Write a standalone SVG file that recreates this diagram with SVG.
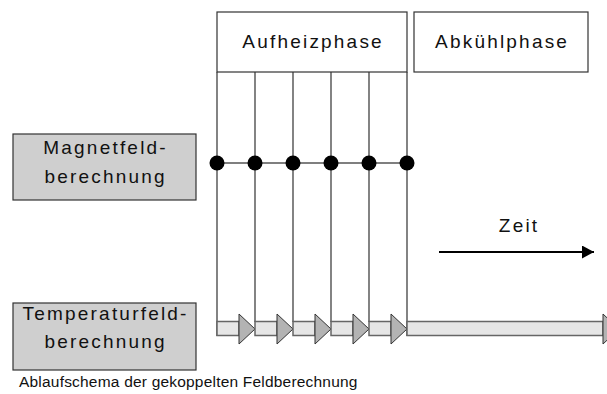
<svg xmlns="http://www.w3.org/2000/svg" width="607" height="394" viewBox="0 0 607 394">
<defs>
<style>
.t{font-family:"Liberation Sans",Arial,sans-serif;font-size:19px;letter-spacing:2.2px;fill:#111}
.cap{font-family:"Liberation Sans",Arial,sans-serif;font-size:15.5px;letter-spacing:0.2px;fill:#111}
.hdr{fill:#fff;stroke:#333;stroke-width:1.2}
.calc{fill:#cfcfcf;stroke:#333;stroke-width:1.2}
.vl{stroke:#333;stroke-width:1.2;fill:none}
.bar{fill:#e6e6e6;stroke:#666;stroke-width:1.5}
.tri{fill:#b3b3b3;stroke:#333;stroke-width:1}
.dot{fill:#000}
</style>
<marker id="ah" markerWidth="12" markerHeight="13" refX="12" refY="6.5" orient="auto" markerUnits="userSpaceOnUse">
<path d="M0,0 L12,6.5 L0,13 Z" fill="#000"/>
</marker>
</defs>
<rect width="607" height="394" fill="#fff"/>

<g id="aufheizphase">
<rect class="hdr" x="217" y="12" width="190" height="60"/>
<text class="t" x="313.1" y="48" text-anchor="middle">Aufheizphase</text>
</g>
<g id="abkuehlphase">
<rect class="hdr" x="414" y="12" width="174" height="60"/>
<text class="t" x="502.1" y="48" text-anchor="middle">Abkühlphase</text>
</g>
<g id="magnetfeld">
<rect class="calc" x="13" y="134" width="183" height="66"/>
<text class="t" x="105.6" y="154" text-anchor="middle">Magnetfeld-</text>
<text class="t" x="105.6" y="183" text-anchor="middle">berechnung</text>
</g>
<g id="temperaturfeld">
<rect class="calc" x="13" y="303" width="183" height="67"/>
<text class="t" x="105.6" y="320" text-anchor="middle">Temperaturfeld-</text>
<text class="t" x="105.6" y="348" text-anchor="middle">berechnung</text>
</g>
<g id="zeit">
<text class="t" x="519.1" y="232" text-anchor="middle">Zeit</text>
</g>

<g id="connectors">
<path class="vl" d="M217,72 V336 M255,72 V322 M293,72 V322 M331,72 V322 M369,72 V322 M407,72 V336"/>
<line x1="217" y1="163" x2="407" y2="163" stroke="#555" stroke-width="1.5"/>
<circle class="dot" cx="217" cy="163" r="7.5"/>
<circle class="dot" cx="255" cy="163" r="7.5"/>
<circle class="dot" cx="293" cy="163" r="7.5"/>
<circle class="dot" cx="331" cy="163" r="7.5"/>
<circle class="dot" cx="369" cy="163" r="7.5"/>
<circle class="dot" cx="407" cy="163" r="7.5"/>
<rect class="bar" x="217" y="321.5" width="22" height="14"/>
<polygon class="tri" points="239,314 255,329 239,344"/>
<rect class="bar" x="255" y="321.5" width="22" height="14"/>
<polygon class="tri" points="277,314 293,329 277,344"/>
<rect class="bar" x="293" y="321.5" width="22" height="14"/>
<polygon class="tri" points="315,314 331,329 315,344"/>
<rect class="bar" x="331" y="321.5" width="22" height="14"/>
<polygon class="tri" points="353,314 369,329 353,344"/>
<rect class="bar" x="369" y="321.5" width="22" height="14"/>
<polygon class="tri" points="391,314 407,329 391,344"/>
<rect class="bar" x="407" y="321.5" width="196" height="14"/>
<polygon class="tri" points="603,314 619,329 603,344"/>
<line x1="439" y1="252" x2="594" y2="252" stroke="#000" stroke-width="2" marker-end="url(#ah)"/>
</g>

<text class="cap" x="19" y="387">Ablaufschema der gekoppelten Feldberechnung</text>
</svg>
